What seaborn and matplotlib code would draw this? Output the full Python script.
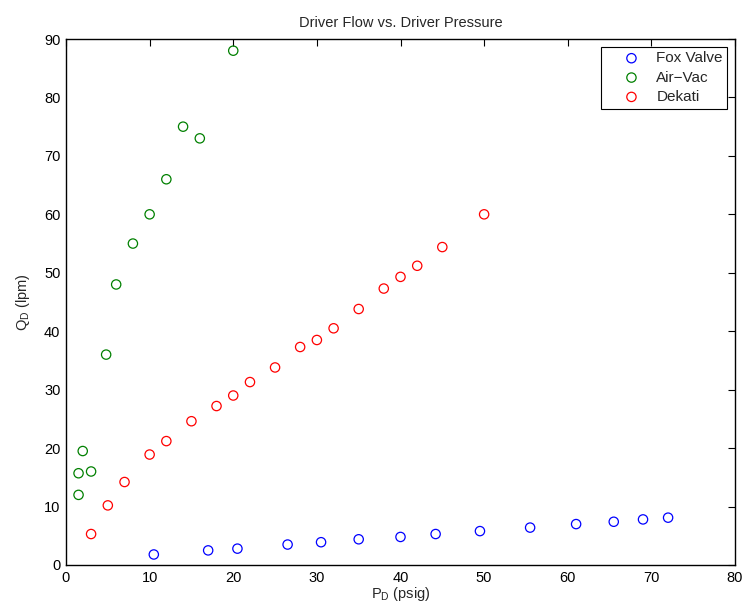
import numpy as np
import pandas as pd
import matplotlib
matplotlib.use("Agg")
import matplotlib.pyplot as plt
import seaborn as sns

# Data
fox_x = [10.5, 17, 20.5, 26.5, 30.5, 35, 40, 44.2, 49.5, 55.5, 61, 65.5, 69, 72]
fox_y = [1.8, 2.5, 2.8, 3.5, 3.9, 4.4, 4.8, 5.3, 5.8, 6.4, 7.0, 7.4, 7.8, 8.1]

airvac_x = [1.5, 1.5, 2, 3, 4.8, 6, 8, 10, 12, 14, 16, 20]
airvac_y = [12, 15.7, 19.5, 16, 36, 48, 55, 60, 66, 75, 73, 88]

dekati_x = [3, 5, 7, 10, 12, 15, 18, 20, 22, 25, 28, 30, 32, 35, 38, 40, 42, 45, 50]
dekati_y = [5.3, 10.2, 14.2, 18.9, 21.2, 24.6, 27.2, 29, 31.3, 33.8, 37.3, 38.5,
            40.5, 43.8, 47.3, 49.3, 51.2, 54.4, 60]

series_names = ["Fox Valve", "Air\u2212Vac", "Dekati"]
series_colors = ["#0000ff", "#008000", "#ff0000"]

x_ticks = list(range(0, 81, 10))
y_ticks = list(range(0, 91, 10))

sns.set_style("white")
plt.rcParams["font.family"] = ["Liberation Sans", "DejaVu Sans"]
plt.rcParams["mathtext.fontset"] = "custom"
plt.rcParams["mathtext.rm"] = "Liberation Sans"
plt.rcParams["mathtext.it"] = "Liberation Sans"

fig = plt.figure(figsize=(7.52, 6.13), dpi=100)
ax = fig.add_axes([66/752, 48/613, (735-66)/752, (565-39)/613])

for xs, ys, name, col in zip([fox_x, airvac_x, dekati_x], [fox_y, airvac_y, dekati_y],
                             series_names, series_colors):
    sns.scatterplot(x=xs, y=ys, ax=ax, marker="o", s=45, color=col,
                    facecolors="none", edgecolors=col, linewidths=0.9, label=name)

ax.set_xlim(0, 80)
ax.set_ylim(0, 90)
ax.set_xticks(x_ticks)
ax.set_yticks(y_ticks)
ax.tick_params(direction="in", length=5, width=0.8, top=True, right=True,
               labelsize=10.5, colors="black", pad=4)
for sp in ax.spines.values():
    sp.set_visible(True)
    sp.set_color("black")
    sp.set_linewidth(1.0)

ax.set_title("Driver Flow vs. Driver Pressure", fontsize=10.5, pad=9)
ax.set_xlabel("P$_{\\mathrm{D}}$ (psig)", fontsize=10.5, labelpad=0)
ax.set_ylabel("Q$_{\\mathrm{D}}$ (lpm)", fontsize=10.5, labelpad=9)

leg = ax.legend(loc="upper right", fontsize=11, frameon=True, fancybox=False,
                edgecolor="black", framealpha=1, borderaxespad=0.5,
                handletextpad=-0.1, borderpad=0.3, labelspacing=0.35,
                handlelength=3.45)
leg.get_frame().set_linewidth(0.8)

fig.savefig("out.png", dpi=100)
